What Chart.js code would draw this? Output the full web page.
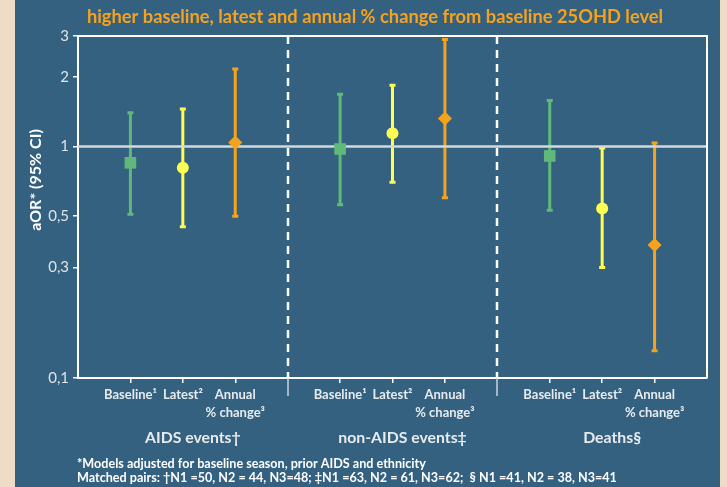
<!DOCTYPE html>
<html>
<head>
<meta charset="utf-8">
<script src="https://cdn.jsdelivr.net/npm/chart.js@4.4.1/dist/chart.umd.min.js"></script>
<style>
  html, body { margin: 0; padding: 0; background: #efdcc7; }
  #wrap { position: relative; width: 727px; height: 487px; overflow: hidden; }
  #panel { position: absolute; left: 15px; top: 0; width: 705px; height: 487px; background: #33617f; }
  #chart { position: absolute; left: 0; top: 0; }
</style>
</head>
<body>
<div id="wrap">
  <div id="panel"></div>
  <canvas id="chart" width="727" height="487"></canvas>
</div>
<script>
// ---- data ----
const titleText = 'higher baseline, latest and annual % change from baseline 25OHD level';
const yTitle = 'aOR* (95% CI)';
const groups = ['AIDS events†', 'non-AIDS events‡', 'Deaths§'];
const measures = [['Baseline¹'], ['Latest²'], ['Annual', '% change³']];
const yTicks = [0.1, 0.3, 0.5, 1, 2, 3];

const baselineOR = [0.85, 0.975, 0.91];
const baselineLo = [0.51, 0.56, 0.53];
const baselineHi = [1.40, 1.68, 1.58];

const latestOR = [0.81, 1.14, 0.54];
const latestLo = [0.45, 0.70, 0.30];
const latestHi = [1.45, 1.84, 0.985];

const annualOR = [1.04, 1.32, 0.375];
const annualLo = [0.50, 0.60, 0.131];
const annualHi = [2.16, 2.90, 1.035];

const footnotes = [
  '*Models adjusted for baseline season, prior AIDS and ethnicity',
  'Matched pairs: †N1 =50, N2 = 44, N3=48; ‡N1 =63, N2 = 61, N3=62;  § N1 =41, N2 = 38, N3=41'
];

// ---- look ----
const GREEN = '#5fb97b';
const YELLOW = '#ffff52';
const ORANGE = '#f7a21c';
const LABEL = '#e8ebee';
const FONT = 'Lato, "Open Sans", sans-serif';

// x slot of a measure inside a group: groups are 4 units wide, separators at 4 and 8
const slot = (g, m) => 4 * g + m + 1;
const tickPos = [];
const tickLabels = [];
groups.forEach((g, gi) => measures.forEach((m, mi) => {
  tickPos.push(slot(gi, mi));
  tickLabels.push(m);
}));

function series(or, lo, hi, m) {
  return or.map((v, gi) => ({ x: slot(gi, m), y: v, lo: lo[gi], hi: hi[gi] }));
}

Chart.defaults.font.family = FONT;

// error bars, reference line at 1, group separators
const forestPlugin = {
  id: 'forest',
  beforeDatasetsDraw(chart) {
    const { ctx, chartArea: a, scales: { x, y } } = chart;
    ctx.save();

    // dashed separators between groups
    [4, 8].forEach(v => {
      const px = Math.round(x.getPixelForValue(v));
      ctx.strokeStyle = '#ffffff';
      ctx.lineWidth = 2.5;
      ctx.setLineDash([8, 6]);
      ctx.beginPath();
      ctx.moveTo(px, a.top);
      ctx.lineTo(px, a.bottom);
      ctx.stroke();
      ctx.setLineDash([]);
      ctx.strokeStyle = '#c9d3da';
      ctx.lineWidth = 1.5;
      ctx.beginPath();
      ctx.moveTo(px, a.bottom);
      ctx.lineTo(px, a.bottom + 18);
      ctx.stroke();
    });

    // whiskers
    chart.data.datasets.forEach((ds, di) => {
      const meta = chart.getDatasetMeta(di);
      ctx.strokeStyle = ds.borderColor;
      ctx.lineWidth = 3;
      meta.data.forEach((pt, i) => {
        const d = ds.data[i];
        const top = y.getPixelForValue(d.hi);
        const bot = y.getPixelForValue(d.lo);
        ctx.beginPath();
        ctx.moveTo(pt.x, top);
        ctx.lineTo(pt.x, bot);
        ctx.moveTo(pt.x - 3, top);
        ctx.lineTo(pt.x + 3, top);
        ctx.moveTo(pt.x - 3, bot);
        ctx.lineTo(pt.x + 3, bot);
        ctx.stroke();
      });
    });

    // reference line at OR = 1
    const y1 = y.getPixelForValue(1);
    ctx.strokeStyle = '#d4d8db';
    ctx.lineWidth = 2.5;
    ctx.beginPath();
    ctx.moveTo(a.left, y1);
    ctx.lineTo(a.right, y1);
    ctx.stroke();

    // top and right frame
    ctx.strokeStyle = '#ffffff';
    ctx.lineWidth = 2;
    ctx.beginPath();
    ctx.moveTo(a.left, a.top);
    ctx.lineTo(a.right, a.top);
    ctx.lineTo(a.right, a.bottom);
    ctx.stroke();
    ctx.restore();
  },
  afterDraw(chart) {
    const { ctx, scales: { x } } = chart;
    ctx.save();
    ctx.textAlign = 'center';
    ctx.textBaseline = 'middle';

    // title
    ctx.fillStyle = ORANGE;
    ctx.font = 'bold 18.3px ' + FONT;
    ctx.fillText(titleText, 375, 17);

    // group names
    ctx.fillStyle = LABEL;
    ctx.font = 'bold 15.8px ' + FONT;
    groups.forEach((g, gi) => {
      ctx.fillText(g, x.getPixelForValue(slot(gi, 1)) + 10, 438);
    });

    // y title
    ctx.save();
    ctx.translate(36, 180);
    ctx.rotate(-Math.PI / 2);
    ctx.fillStyle = '#ffffff';
    ctx.font = 'bold 16px ' + FONT;
    ctx.fillText(yTitle, 0, 0);
    ctx.restore();

    // footnotes
    ctx.textAlign = 'left';
    ctx.fillStyle = '#ffffff';
    ctx.font = 'bold 12.6px ' + FONT;
    ctx.fillText(footnotes[0], 77, 464);
    ctx.fillText(footnotes[1], 77, 478);
    ctx.restore();
  }
};

new Chart(document.getElementById('chart'), {
  type: 'scatter',
  data: {
    datasets: [
      { label: 'Baseline', data: series(baselineOR, baselineLo, baselineHi, 0),
        pointStyle: 'rect', pointRadius: 8.2, backgroundColor: GREEN, borderColor: GREEN, borderWidth: 0 },
      { label: 'Latest', data: series(latestOR, latestLo, latestHi, 1),
        pointStyle: 'circle', pointRadius: 6, backgroundColor: YELLOW, borderColor: YELLOW, borderWidth: 0 },
      { label: 'Annual % change', data: series(annualOR, annualLo, annualHi, 2),
        pointStyle: 'rectRot', pointRadius: 7, backgroundColor: ORANGE, borderColor: ORANGE, borderWidth: 0 }
    ]
  },
  options: {
    responsive: false,
    animation: false,
    layout: { padding: { top: 36, right: 20, left: 0, bottom: 0 } },
    plugins: { legend: { display: false }, tooltip: { enabled: false } },
    scales: {
      x: {
        type: 'linear', min: 0, max: 12,
        afterBuildTicks: s => { s.ticks = tickPos.map(v => ({ value: v })); },
        afterFit: s => { s.height = 109; },
        ticks: {
          autoSkip: false, maxRotation: 0, padding: 3,
          color: LABEL, font: { size: 13, weight: 'bold', lineHeight: 1.38 },
          callback: (v, i) => tickLabels[i]
        },
        grid: { drawOnChartArea: false, color: '#ffffff', tickLength: 5, lineWidth: 1.5 },
        border: { color: '#ffffff', width: 2 }
      },
      y: {
        type: 'logarithmic', min: 0.1, max: 3,
        afterBuildTicks: s => { s.ticks = yTicks.map(v => ({ value: v })); },
        afterFit: s => { s.width = 78; },
        ticks: {
          padding: 4, color: '#dfe4e8', font: { size: 15 },
          callback: v => String(v).replace('.', ',')
        },
        grid: { drawOnChartArea: false, color: '#ffffff', tickLength: 5, lineWidth: 1.5 },
        border: { color: '#ffffff', width: 2 }
      }
    }
  },
  plugins: [forestPlugin]
});
</script>
</body>
</html>
